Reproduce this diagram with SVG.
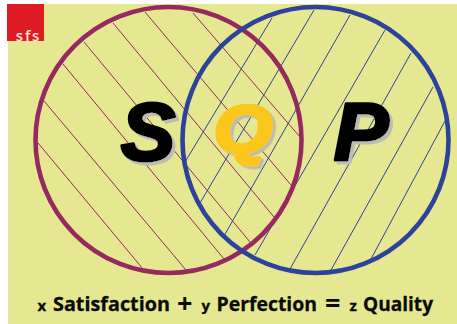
<svg xmlns="http://www.w3.org/2000/svg" width="457" height="324" viewBox="0 0 457 324">
<defs><filter id="sh" x="-20%" y="-20%" width="150%" height="150%"><feDropShadow dx="3" dy="3" stdDeviation="0" flood-color="#bbbcb4"/></filter></defs>
<style>
.p{stroke:#96295f;stroke-width:1;fill:none}
.b{stroke:#2d439b;stroke-width:1;fill:none}
.big{font-family:"Liberation Sans",Arial,sans-serif;font-weight:bold;font-style:italic;font-size:82px;text-anchor:middle;stroke-width:3;stroke-linejoin:round;filter:url(#sh)}
.lb{font-family:"Open Sans",sans-serif;font-weight:700;fill:#0a0a0a;font-size:19.5px;stroke:#0a0a0a;stroke-width:.3}
.sm{font-family:"Open Sans",sans-serif;font-weight:700;fill:#0a0a0a;font-size:15px;stroke:#0a0a0a;stroke-width:.3}
.op{font-family:"Open Sans",sans-serif;font-weight:700;fill:#0a0a0a;font-size:27px}
</style>
<rect x="8" y="4" width="449" height="320" fill="#e5e891"/>
<g id="connectors">
<path class="p" d="M193 13L300 137M145 12L291 185M113 23L274 217M84 42L250 242M63 64L224 259M44 101L186 270M38 143L143 269"/>
<path class="b" d="M272 18L185 162M314 10L200 203M350 15L224 236M385 30L255 255M411 53L290 269M433 87L331 270M445 121L371 259"/>
</g>
<g id="circle-s"><circle cx="168.5" cy="140" r="133" fill="none" stroke="#96295f" stroke-width="4.6"/></g>
<g id="circle-p"><circle cx="315.500" cy="140" r="133" fill="none" stroke="#2d439b" stroke-width="4.6"/></g>
<g id="label-s"><text class="big" x="148" y="160" fill="#050505" stroke="#050505">S</text></g>
<g id="label-q"><text class="big" transform="translate(243 152) scale(.92 .82)" x="0" y="0" fill="#fcc71b" stroke="#fcc71b" style="stroke-width:4.5">Q</text></g>
<g id="label-p"><text class="big" x="361" y="160" fill="#050505" stroke="#050505">P</text></g>
<g id="logo"><rect x="7" y="4" width="37" height="37" fill="#de1b24"/><text x="28.5" y="40.5" text-anchor="middle" font-family="Open Sans,sans-serif" font-weight="600" font-size="15" letter-spacing="1.8" fill="#f6e0dc">sfs</text></g>
<g id="equation">
<text class="sm" x="37.500" y="311">x</text>
<text class="lb" x="53" y="311" textLength="117" lengthAdjust="spacingAndGlyphs">Satisfaction</text>
<text class="op" x="177" y="313">+</text>
<text class="sm" x="201.500" y="311">y</text>
<text class="lb" x="216.500" y="311" textLength="100.500" lengthAdjust="spacingAndGlyphs">Perfection</text>
<text class="op" x="325" y="313">=</text>
<text class="sm" x="349.500" y="311">z</text>
<text class="lb" x="363" y="311" textLength="70" lengthAdjust="spacingAndGlyphs">Quality</text>
</g>
</svg>
